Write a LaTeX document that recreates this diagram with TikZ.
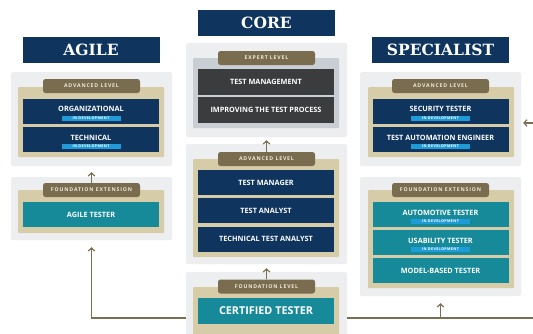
\documentclass[tikz,border=0pt]{standalone}
\usepackage{fontspec}
\setmainfont{Open Sans}
\newfontfamily\headfont{DejaVu Serif}
\usetikzlibrary{arrows.meta}

\definecolor{navy}{HTML}{0F355F}
\definecolor{teal}{HTML}{178A9A}
\definecolor{slate}{HTML}{3A3C3E}
\definecolor{tabbrown}{HTML}{7A6C4E}
\definecolor{tabtext}{HTML}{F0EADC}
\definecolor{beige}{HTML}{D7CCA8}
\definecolor{panelgray}{HTML}{ECEEF0}
\definecolor{expertgray}{HTML}{C9CED4}
\definecolor{devblue}{HTML}{1F9BD7}
\definecolor{linebrown}{HTML}{7B6E52}

\begin{document}
\begin{tikzpicture}[x=1pt, y=-1pt,
  headbox/.style = {fill=navy, text=white, minimum width=137, minimum height=26, inner sep=0,
                    font=\headfont\bfseries\fontsize{15.5}{16}\selectfont},
  panel/.style   = {fill=panelgray, rounded corners=1.5pt, minimum width=161, inner sep=0},
  backing/.style = {fill=beige, rounded corners=1pt, minimum width=146, inner sep=0},
  leveltab/.style = {fill=tabbrown, text=tabtext, rounded corners=2.5pt, minimum width=97,
                    minimum height=14, inner sep=0,
                    font=\bfseries\fontsize{5.2}{6}\selectfont\addfontfeatures{LetterSpace=16}},
  course/.style  = {fill=navy, text=white, minimum width=136, minimum height=25, inner sep=0,
                    font=\bfseries\fontsize{7.3}{8}\selectfont},
  devcourse/.style = {course, text depth=4pt},
  devtag/.style  = {fill=devblue, text=white, minimum width=59, minimum height=5, inner sep=0,
                    font=\bfseries\fontsize{3.7}{4}\selectfont\addfontfeatures{LetterSpace=10}},
  wire/.style    = {draw=linebrown, line width=1.2pt},
  flow/.style    = {wire, -{Straight Barb[length=3pt, width=6.5pt]}}]

% The page is 533 x 333, everything outside is clipped
\fill[white] (0,0) rectangle (533,333);
\clip (0,0) rectangle (533,333);

% Reference points for the connectors
\coordinate (bus)    at (0, 318);      % (line under the certified tester)
\coordinate (busend) at (540, 318);    % (runs off the right edge)
\coordinate (feedin) at (540, 123);    % (comes in from the right edge)

% Column titles
\node[headbox] (agiletitle) at (91, 50)    {AGILE};
\node[headbox] (coretitle)  at (266.5, 22.5) {CORE};
\node[headbox] (spectitle)  at (440.5, 50) {SPECIALIST};

% Agile: advanced level
\node[panel, minimum height=94] (agileadv) at (91.5, 119) {};
\node[backing, minimum height=70] at (91, 122) {};
\node[leveltab] (agileadvtab) at (91.5, 86) {ADVANCED LEVEL};
\node[devcourse] (org)  at (91, 111)   {ORGANIZATIONAL};
\node[devcourse] (tech) at (91, 139.5) {TECHNICAL};
\node[devtag] at ([yshift=-7pt]org.center)  {IN DEVELOPMENT};
\node[devtag] at ([yshift=-7pt]tech.center) {IN DEVELOPMENT};

% Agile: foundation extension
\node[panel, minimum height=63] (agilefound) at (91.5, 208.5) {};
\node[backing, minimum height=43] at (91, 211.5) {};
\node[leveltab] (agilefoundtab) at (91.5, 190) {FOUNDATION EXTENSION};
\node[course, fill=teal] (agiletester) at (91, 214.5) {AGILE TESTER};

% Core: expert level
\node[panel, minimum height=94] (expert) at (266.5, 90) {};
\node[backing, fill=expertgray, minimum height=70] at (266, 93) {};
\node[leveltab] (experttab) at (266.5, 58) {EXPERT LEVEL};
\node[course, fill=slate, minimum height=26] (testmgmt) at (266, 82)  {TEST MANAGEMENT};
\node[course, fill=slate, minimum height=26] (itp)      at (266, 110) {IMPROVING THE TEST PROCESS};

% Core: advanced level
\node[panel, minimum height=120] (coreadv) at (266.5, 204) {};
\node[backing, minimum height=98] at (266, 208) {};
\node[leveltab] (coreadvtab) at (266.5, 159) {ADVANCED LEVEL};
\node[course] (tm)  at (266, 182.5) {TEST MANAGER};
\node[course] (ta)  at (266, 210.5) {TEST ANALYST};
\node[course] (tta) at (266, 239)   {TECHNICAL TEST ANALYST};

% Core: foundation level
\node[panel, minimum height=68] (certpanel) at (266.5, 306) {};
\node[backing, minimum height=49] at (266, 311.5) {};
\node[leveltab] (certtab) at (266.5, 286.5) {FOUNDATION LEVEL};
\node[course, fill=teal, minimum height=26, font=\bfseries\fontsize{10.8}{12}\selectfont]
  (cert) at (266, 311) {CERTIFIED TESTER};

% Specialist: advanced level
\node[panel, minimum height=94] (specadv) at (440.5, 119) {};
\node[backing, minimum height=70] at (441, 122) {};
\node[leveltab] (specadvtab) at (440.5, 86) {ADVANCED LEVEL};
\node[devcourse] (security) at (440.5, 111)   {SECURITY TESTER};
\node[devcourse] (tae)      at (440.5, 139.5) {TEST AUTOMATION ENGINEER};
\node[devtag] at ([yshift=-7pt]security.center) {IN DEVELOPMENT};
\node[devtag] at ([yshift=-7pt]tae.center)      {IN DEVELOPMENT};

% Specialist: foundation extension
\node[panel, minimum height=119] (specfound) at (440.5, 236.5) {};
\node[backing, minimum height=98] at (441, 239) {};
\node[leveltab] (specfoundtab) at (440.5, 190) {FOUNDATION EXTENSION};
\node[devcourse, fill=teal] (automotive) at (440.5, 214.5) {AUTOMOTIVE TESTER};
\node[devcourse, fill=teal] (usability)  at (440.5, 242.5) {USABILITY TESTER};
\node[course, fill=teal]    (mbt)        at (440.5, 270.5) {MODEL-BASED TESTER};
\node[devtag] at ([yshift=-7pt]automotive.center) {IN DEVELOPMENT};
\node[devtag] at ([yshift=-7pt]usability.center)  {IN DEVELOPMENT};

% Arrows between the levels
\draw[flow, shorten >=3pt] (coreadvtab.north) -- (expert.south);
\draw[flow, shorten >=4pt] (certtab.north) -- (coreadv.south);
\draw[flow, shorten >=6pt] (agilefoundtab.north) -- (agileadv.south);

% Line under the certified tester, up to the two extensions
\draw[flow, shorten >=7pt] (certpanel.west |- bus) -| (agilefound.south);
\draw[wire] (certpanel.east |- bus) -- (busend);
\draw[flow, shorten >=7pt] (specfound.south |- bus) -- (specfound.south);
\draw[flow, shorten >=2pt] (feedin) -- (specadv.east |- feedin);

\end{tikzpicture}
\end{document}
